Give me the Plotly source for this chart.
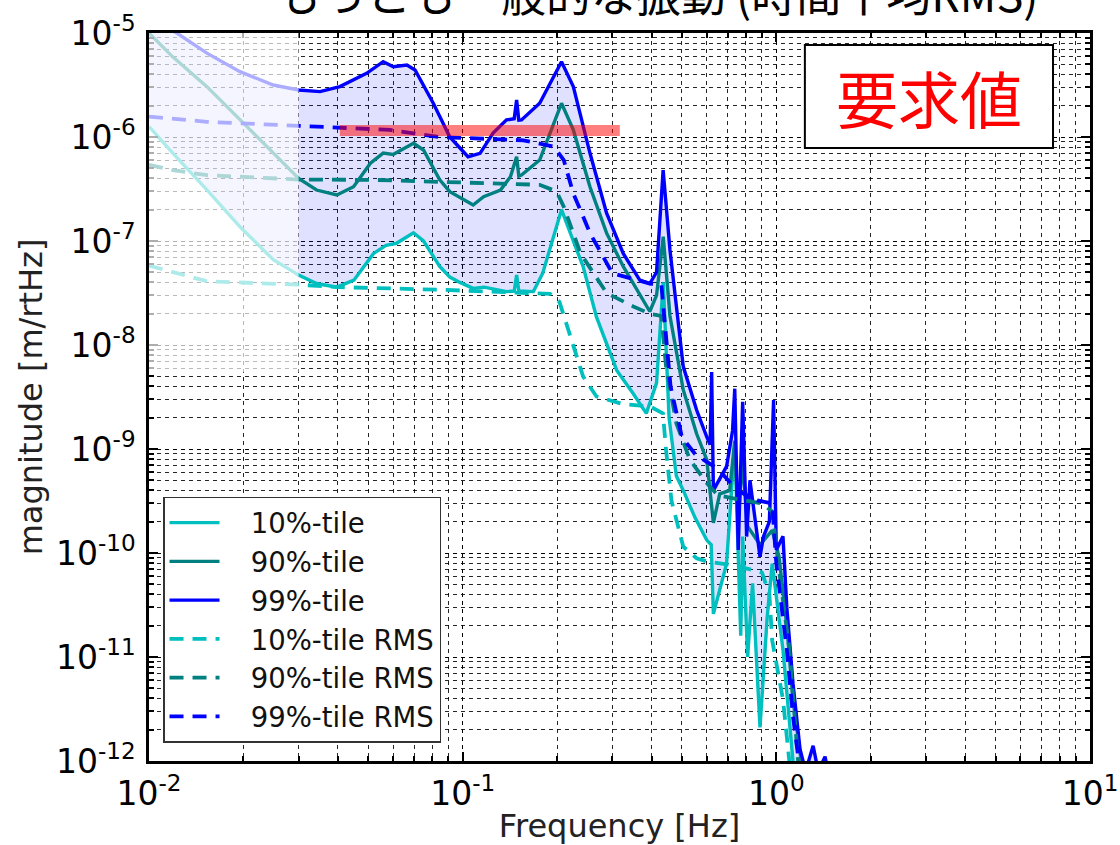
import plotly.graph_objects as go

# ---------------- data ----------------
f_p99 = [0.01, 0.01226, 0.0153, 0.0195, 0.0249, 0.03, 0.0351, 0.0406, 0.0494, 0.0558,
         0.0601, 0.0664, 0.0705, 0.0806, 0.091, 0.104, 0.1136, 0.125, 0.138, 0.146,
         0.1486, 0.151, 0.154, 0.176, 0.2066, 0.2253, 0.2547, 0.2877, 0.325, 0.367,
         0.395, 0.415, 0.4356, 0.458, 0.505, 0.557, 0.6, 0.615, 0.622, 0.63,
         0.694, 0.725, 0.737, 0.756, 0.781, 0.804, 0.824, 0.887, 0.91, 0.95,
         0.98, 1.0, 1.05, 1.08, 1.13, 1.19, 1.24, 1.31, 1.36, 1.43, 1.46]
v_p99 = [1.35e-5, 1.0e-5, 6.4e-6, 4.25e-6, 3.16e-6, 2.83e-6, 2.73e-6, 3.05e-6, 4.09e-6, 5.3e-6,
         4.74e-6, 4.92e-6, 4.41e-6, 2.11e-6, 1.0e-6, 6.46e-7, 6.97e-7, 1.09e-6, 1.46e-6, 1.5e-6,
         2.27e-6, 1.45e-6, 1.46e-6, 2.11e-6, 5.3e-6, 3.05e-6, 6.97e-7, 1.85e-7, 7.6e-8, 4.2e-8,
         3.9e-8, 5.0e-8, 4.8e-7, 8.2e-8, 6.2e-9, 2.37e-9, 1.31e-9, 1.1e-9, 5.5e-9, 4.0e-10,
         6.8e-10, 1.5e-9, 3.8e-9, 1.07e-10, 2.85e-9, 1.44e-10, 5.0e-10, 9.2e-11, 1.44e-10, 2.0e-10,
         2.95e-9, 1.07e-10, 1.45e-10, 3.0e-11, 5.6e-12, 1.3e-12, 8e-13, 1.4e-12, 8e-13, 1.1e-12, 8e-13]

f_p90 = [0.01, 0.0119, 0.0153, 0.0195, 0.0249, 0.03, 0.0342, 0.0397, 0.0449, 0.0508,
         0.0558, 0.06, 0.0697, 0.075, 0.0845, 0.091, 0.108, 0.1166, 0.132, 0.142,
         0.1486, 0.151, 0.154, 0.176, 0.2066, 0.2253, 0.2547, 0.2877, 0.325, 0.367,
         0.395, 0.415, 0.436, 0.458, 0.505, 0.557, 0.6, 0.63, 0.66, 0.71,
         0.737, 0.755, 0.78, 0.81, 0.887, 0.97, 1.02, 1.08, 1.13, 1.2, 1.25]
v_p90 = [1.0e-5, 5.9e-6, 3.05e-6, 1.46e-6, 7.0e-7, 4.0e-7, 3.09e-7, 2.77e-7, 3.33e-7, 5.6e-7,
         7.0e-7, 6.8e-7, 8.7e-7, 7.5e-7, 3.87e-7, 2.98e-7, 2.22e-7, 2.67e-7, 3.09e-7, 4.15e-7,
         6.46e-7, 4.2e-7, 4.3e-7, 6.0e-7, 2.11e-6, 1.17e-6, 3.3e-7, 1.19e-7, 5.7e-8, 3.1e-8,
         2.1e-8, 3.0e-8, 1.1e-7, 1.9e-8, 3.7e-9, 1.4e-9, 7.9e-10, 1.95e-10, 3.7e-10, 4.0e-10,
         1.2e-9, 2.0e-10, 7.9e-10, 1.8e-10, 1.2e-10, 1.65e-10, 9.2e-11, 2.0e-11, 3.9e-12, 1.0e-12, 7e-13]

f_p10 = [0.01, 0.0119, 0.0153, 0.0195, 0.0249, 0.03, 0.0342, 0.0397, 0.045, 0.052,
         0.057, 0.0615, 0.0697, 0.075, 0.0845, 0.091, 0.098, 0.108, 0.117, 0.138,
         0.146, 0.1486, 0.151, 0.168, 0.18, 0.195, 0.2066, 0.2253, 0.242, 0.267,
         0.31, 0.35, 0.385, 0.415, 0.436, 0.455, 0.48, 0.505, 0.55, 0.6,
         0.62, 0.63, 0.694, 0.737, 0.77, 0.781, 0.81, 0.84, 0.887, 0.935,
         0.97, 1.05, 1.1, 1.13, 1.16]
v_p10 = [1.26e-6, 7.0e-7, 3.1e-7, 1.37e-7, 6.6e-8, 4.7e-8, 3.9e-8, 3.6e-8, 4.2e-8, 7.6e-8,
         9.1e-8, 9.5e-8, 1.2e-7, 1.0e-7, 5.7e-8, 4.5e-8, 4.0e-8, 3.5e-8, 3.6e-8, 3.26e-8,
         3.3e-8, 4.7e-8, 3.3e-8, 3.26e-8, 4.9e-8, 1.1e-7, 2.0e-7, 1.0e-7, 5.7e-8, 1.86e-8,
         5.7e-9, 3.4e-9, 2.2e-9, 4.3e-9, 4.0e-8, 2.0e-9, 5.5e-10, 4.0e-10, 2.2e-10, 1.33e-10,
         1.2e-10, 2.6e-11, 7.9e-11, 1.15e-9, 1.6e-11, 1.44e-10, 1.0e-11, 5.1e-11, 2.1e-12, 2.4e-11,
         7.9e-11, 1.17e-11, 2.7e-12, 1.0e-12, 7e-13]

f_r10 = [0.01, 0.0153, 0.03, 0.0406, 0.0845, 0.138, 0.19, 0.2035, 0.22, 0.242,
         0.267, 0.325, 0.395, 0.435, 0.445, 0.463, 0.505, 0.557, 0.6, 0.75,
         0.9, 0.95, 0.97, 1.05, 1.1, 1.12]
v_r10 = [5.8e-8, 4.1e-8, 3.8e-8, 3.6e-8, 3.4e-8, 3.2e-8, 3.1e-8, 2.6e-8, 1.2e-8, 5e-9,
         3.2e-9, 2.7e-9, 2.57e-9, 2.2e-9, 9.8e-10, 3.2e-10, 1.15e-10, 8.9e-11, 8.3e-11, 7.5e-11,
         6.5e-11, 4e-11, 1.45e-11, 3.9e-12, 1e-12, 8e-13]

f_r90 = [0.01, 0.0119, 0.0153, 0.03, 0.052, 0.0845, 0.138, 0.176, 0.199, 0.21,
         0.2375, 0.288, 0.35, 0.395, 0.43, 0.445, 0.48, 0.53, 0.6, 0.65,
         0.75, 0.9, 0.97, 1.02, 1.1, 1.15, 1.18]
v_r90 = [5.4e-7, 4.8e-7, 4.3e-7, 3.9e-7, 3.87e-7, 3.7e-7, 3.6e-7, 3.47e-7, 3.0e-7, 2.14e-7,
         7.6e-8, 3.15e-8, 2.35e-8, 2.0e-8, 1.9e-8, 6.2e-9, 1.77e-9, 7.9e-10, 4.7e-10, 3.6e-10,
         3.3e-10, 3.0e-10, 2.5e-10, 6.9e-11, 1.2e-11, 1.8e-12, 8e-13]

f_r99 = [0.01, 0.0153, 0.03, 0.0406, 0.0587, 0.0845, 0.108, 0.156, 0.195, 0.21,
         0.225, 0.2547, 0.3, 0.367, 0.395, 0.43, 0.445, 0.46, 0.5, 0.55,
         0.6, 0.65, 0.75, 0.87, 0.97, 1.0, 1.08, 1.13, 1.19]
v_r99 = [1.57e-6, 1.40e-6, 1.28e-6, 1.24e-6, 1.17e-6, 1.0e-6, 9.7e-7, 9.3e-7, 8.1e-7, 6.0e-7,
         2.9e-7, 1.19e-7, 4.9e-8, 4.2e-8, 3.9e-8, 3.8e-8, 1.2e-8, 4.0e-9, 1.3e-9, 9.0e-10,
         7.5e-10, 6.5e-10, 4.0e-10, 3.2e-10, 3.0e-10, 7.9e-11, 1.17e-11, 2.7e-12, 8e-13]

# requirement band
f_req = [0.0406, 0.317]
v_req = [1.155e-6, 1.155e-6]

series_names = ["10%-tile", "90%-tile", "99%-tile", "10%-tile RMS", "90%-tile RMS", "99%-tile RMS"]
c_cyan, c_teal, c_blue = "#00BFBF", "#008080", "#0000FF"

x_tickvals = [1e-2, 1e-1, 1e0, 1e1]
x_ticktext = ["10<sup>-2</sup>", "10<sup>-1</sup>", "10<sup>0</sup>", "10<sup>1</sup>"]
y_tickvals = [1e-12, 1e-11, 1e-10, 1e-9, 1e-8, 1e-7, 1e-6, 1e-5]
y_ticktext = ["10<sup>-12</sup>", "10<sup>-11</sup>", "10<sup>-10</sup>", "10<sup>-9</sup>",
              "10<sup>-8</sup>", "10<sup>-7</sup>", "10<sup>-6</sup>", "10<sup>-5</sup>"]

title_text = "もっとも一般的な振動 (時間平均RMS)"
req_text = "要求値"

# ---------------- figure ----------------
FONT = "DejaVu Sans"
fig = go.Figure()

# shaded band between 10%-tile and 99%-tile
fig.add_trace(go.Scatter(
    x=f_p99 + f_p10[::-1], y=v_p99 + v_p10[::-1],
    mode="lines", fill="toself", fillcolor="rgba(0,0,255,0.12)",
    line=dict(width=0), showlegend=False, hoverinfo="skip"))

specs = [
    (f_p10, v_p10, c_cyan, "solid", 3.4),
    (f_p90, v_p90, c_teal, "solid", 3.4),
    (f_p99, v_p99, c_blue, "solid", 3.4),
    (f_r10, v_r10, c_cyan, "14px,9px", 3.8),
    (f_r90, v_r90, c_teal, "14px,9px", 3.8),
    (f_r99, v_r99, c_blue, "14px,9px", 3.8),
]
for i, (fx, fy, col, dash, w) in enumerate(specs):
    fig.add_trace(go.Scatter(
        x=fx, y=fy, mode="lines", name="\u00a0\u00a0\u00a0" + series_names[i], legendgroup=f"g{i}",
        line=dict(color=col, width=w, dash=dash)))

fig.add_trace(go.Scatter(
    x=f_req, y=v_req, mode="lines", showlegend=False,
    line=dict(color="rgba(255,0,0,0.5)", width=11)))

grid_common = dict(
    type="log", showgrid=True, gridcolor="rgba(0,0,0,0.85)", gridwidth=1, griddash="4px,4px",
    ticks="inside", ticklen=9, tickwidth=1.5, tickcolor="black",
    showline=True, linecolor="black", linewidth=2.5, mirror="allticks",
    tickmode="array",
    tickfont=dict(family=FONT, size=33, color="black"),
    zeroline=False, automargin=False,
    minor=dict(ticks="inside", ticklen=5, tickcolor="black", showgrid=True,
               gridcolor="rgba(0,0,0,0.85)", gridwidth=1, griddash="4px,4px", dtick="D1"),
)

fig.update_xaxes(range=[-2, 1], tickvals=x_tickvals, ticktext=x_ticktext, ticklabelstandoff=2,
                 title=dict(text="Frequency [Hz]", standoff=8,
                            font=dict(family=FONT, size=32, color="#222")),
                 **grid_common)
fig.update_yaxes(range=[-12, -5], tickvals=y_tickvals, ticktext=y_ticktext, ticklabelstandoff=4,
                 title=dict(text="magnitude [m/rtHz]", standoff=4,
                            font=dict(family=FONT, size=32, color="#222")),
                 **grid_common)

fig.update_layout(
    width=1120, height=845,
    margin=dict(l=149, r=30, t=33, b=84, autoexpand=False),
    plot_bgcolor="white", paper_bgcolor="white",
    font=dict(family=FONT, color="black"),
    legend=dict(x=0.0149, y=0.363, xanchor="left", yanchor="top",
                bgcolor="white", bordercolor="#333", borderwidth=1.5,
                font=dict(family=FONT, size=27.5, color="#111"),
                itemwidth=50, tracegroupgap=11, traceorder="normal"),
    shapes=[
        # faded region below 0.03 Hz
        dict(type="rect", xref="paper", yref="paper", x0=0, x1=0.159, y0=0.534, y1=1,
             fillcolor="rgba(255,255,255,0.68)", line=dict(width=0), layer="above"),
        # requirement label box
        dict(type="rect", xref="paper", yref="paper", x0=0.697, x1=0.9607, y0=0.842, y1=0.9835,
             fillcolor="white", line=dict(color="black", width=2), layer="above"),
    ],
    annotations=[
        dict(text=req_text, xref="paper", yref="paper", x=0.829, y=0.912,
             xanchor="center", yanchor="middle",
             showarrow=False, font=dict(family="Noto Sans CJK JP", size=62, color="red")),
        dict(text=title_text, xref="paper", yref="paper", x=0.54, y=1.008,
             xanchor="center", yanchor="bottom",
             showarrow=False, font=dict(family="Noto Sans CJK JP", size=45, color="black")),
    ],
)

fig.write_html("out.html")
